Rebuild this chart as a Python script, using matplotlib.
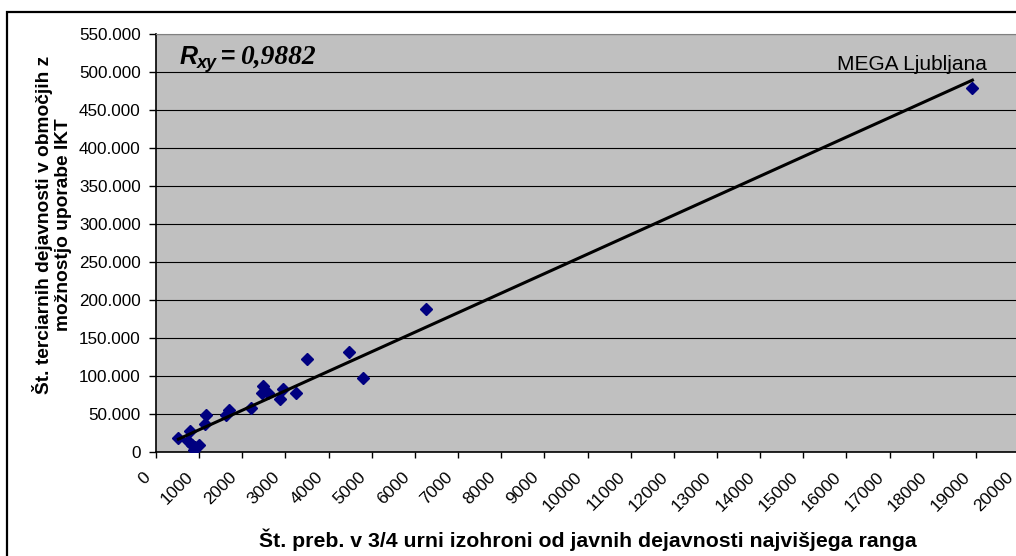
import numpy as np
import matplotlib.pyplot as plt
import matplotlib.transforms as mtransforms
from matplotlib.patches import Rectangle

plt.rcParams['font.family'] = ['Liberation Sans', 'DejaVu Sans']

# population within 3/4 hour isochrone vs. number of tertiary activities
x_preb = [520, 787, 748, 826, 903, 1003, 887, 1150, 1134, 1620, 1697, 2199,
          2485, 2446, 2600, 2870, 2932, 3233, 3503, 4468, 4800, 6250, 18920]
y_terc = [19000, 28000, 14900, 9200, 7000, 9200, 2600, 48700, 36800, 48700,
          55200, 57400, 86800, 78000, 78000, 69700, 82500, 78000, 122400,
          131200, 97000, 188200, 479400]
x_ticks = list(range(0, 20001, 1000))
y_ticks = list(range(0, 550001, 50000))
r_xy = '0,9882'
label_point = 'MEGA Ljubljana'

fig = plt.figure(figsize=(10.16, 5.56), dpi=100)
ax = fig.add_axes([156/1016, 1 - 452/556, (1019 - 156)/1016, (452 - 34)/556])
ax.set_facecolor('#C0C0C0')

# outer chart border
fig.patches.append(Rectangle((7/1016, -0.05), 1.1, 1 - 12/556 + 0.05,
                             transform=fig.transFigure, fill=False,
                             edgecolor='black', linewidth=1.6, zorder=0))

ax.yaxis.grid(True, color='black', linewidth=0.8)
ax.set_axisbelow(True)

ax.plot(x_preb, y_terc, linestyle='none', marker='D', markersize=6.5,
        color='#000080', zorder=3)

# linear trend line
k, n = np.polyfit(x_preb, y_terc, 1)
xs = np.array([min(x_preb), max(x_preb)])
ax.plot(xs, k*xs + n, color='black', linewidth=2.2, zorder=4)

ax.set_xlim(0, 20000)
ax.set_ylim(0, 550000)
ax.set_xticks(x_ticks)
ax.set_xticklabels([str(v) for v in x_ticks], rotation=45, ha='right',
                   va='center', rotation_mode='anchor', fontsize=12.5)
ax.set_yticks(y_ticks)
ax.set_yticklabels([f'{v:,.0f}'.replace(',', '.') for v in y_ticks], fontsize=12.3)
ax.tick_params(axis='x', direction='out', length=4, width=1, pad=6)
ax.tick_params(axis='y', direction='out', length=5, width=1, pad=6)
offset = mtransforms.ScaledTranslation(-8/100, -9/100, fig.dpi_scale_trans)
for lab in ax.get_xticklabels():
    lab.set_transform(lab.get_transform() + offset)

ax.spines['left'].set_linewidth(1.2)
ax.spines['bottom'].set_linewidth(1.2)
ax.spines['top'].set_color('#808080')
ax.spines['right'].set_visible(False)

fig.text(588/1016, 1 - 540/556,
         'Št. preb. v 3/4 urni izohroni od javnih dejavnosti najvišjega ranga',
         ha='center', va='center', fontsize=15.3, fontweight='bold')
fig.text(52/1016, 1 - 225/556,
         'Št. terciarnih dejavnosti v območjih z\nmožnostjo uporabe IKT',
         ha='center', va='center', rotation=90, fontsize=13.8,
         fontweight='bold', linespacing=1.1)

# correlation coefficient
fig.text(180/1016, 1 - 57/556, 'R', ha='left', va='center', fontsize=18,
         fontweight='bold', fontstyle='italic')
fig.text(197/1016, 1 - 64/556, 'xy', ha='left', va='center', fontsize=13,
         fontweight='bold', fontstyle='italic')
fig.text(221/1016, 1 - 57/556, '=', ha='left', va='center', fontsize=18,
         fontweight='bold')
fig.text(240/1016, 1 - 57/556, r_xy, ha='left', va='center', fontsize=19.8,
         fontweight='bold', fontstyle='italic', family='Liberation Serif')

ax.annotate(label_point, xy=(x_preb[-1], y_terc[-1]), xytext=(-135, 23),
            textcoords='offset pixels', fontsize=15, ha='left', va='center')

fig.savefig('out.png', dpi=100)
